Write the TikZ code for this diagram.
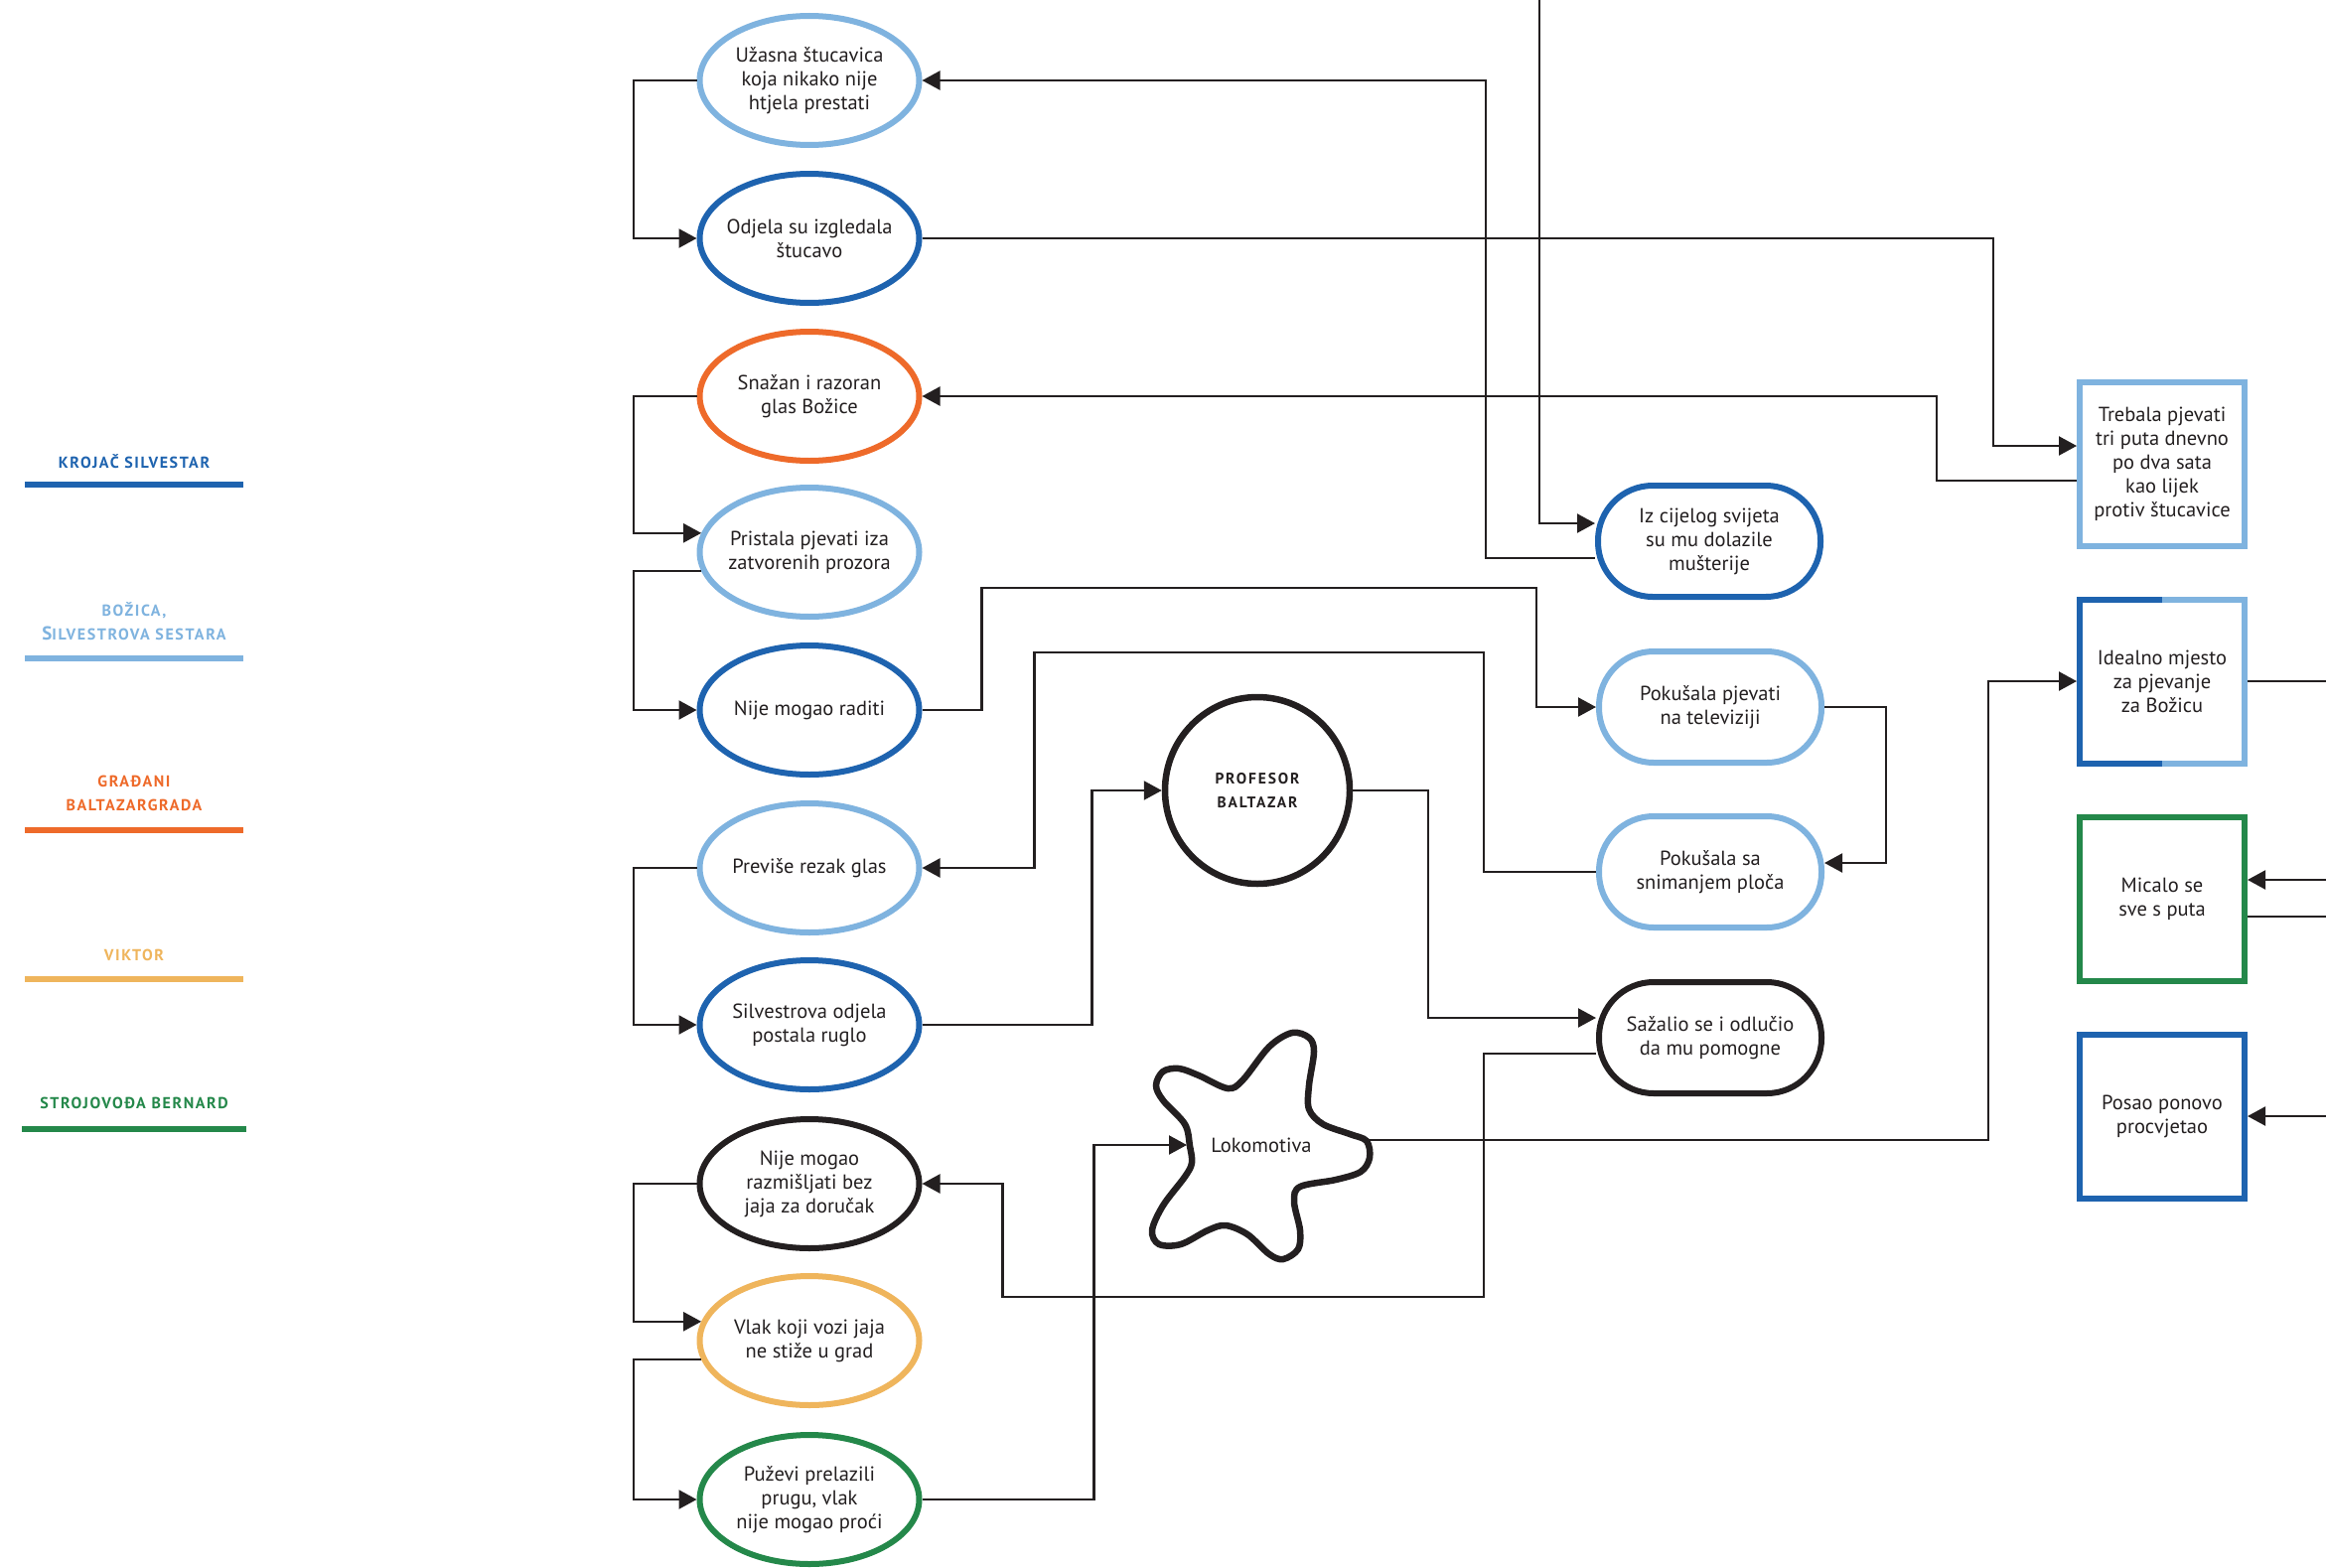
\documentclass[tikz,border=0pt]{standalone}
\usepackage{fontspec}
\setmainfont{PT Sans}
\usetikzlibrary{arrows.meta,calc,shapes.geometric}
\definecolor{dblue}{HTML}{1E63AF}
\definecolor{lblue}{HTML}{7FB3DF}
\definecolor{orng}{HTML}{EE6A2A}
\definecolor{yell}{HTML}{EFB55C}
\definecolor{grn}{HTML}{24884A}
\definecolor{ink}{HTML}{231F20}
\begin{document}
\begin{tikzpicture}[x=1pt,y=-1pt,
  txt/.style={font=\fontsize{20.5}{24}\selectfont, text=ink, align=center},
  ell/.style={ellipse, draw, line width=6pt, minimum width=221pt, minimum height=130pt, inner xsep=-40pt, inner ysep=0pt, txt},
  stad/.style={rectangle, rounded corners=55pt, draw, line width=6pt, minimum width=224pt, minimum height=112pt, inner sep=0pt, txt},
  sbox/.style={rectangle, draw, line width=6pt, minimum width=166pt, minimum height=165pt, inner sep=0pt, txt},
  arr/.style={draw=ink, line width=2.2pt, -{Triangle[length=18pt,width=19pt]}},
  con/.style={draw=ink, line width=2.2pt},
  leg/.style={font=\fontsize{16}{24}\selectfont\bfseries\addfontfeatures{LetterSpace=10}, align=center},
  legline/.style={line width=6pt},
]
\fill[white] (0,0) rectangle (2342,1579);
\useasboundingbox (0,0) rectangle (2342,1579);

% legend
\node[leg,text=dblue] (l1) at (135,465) {KROJAČ SILVESTAR};
\draw[legline,dblue] (25,488) -- (245,488);
\node[leg,text=lblue] (l2) at (135,626) {BOŽICA,\\{\fontsize{19}{24}\selectfont S}ILVESTROVA SESTARA};
\draw[legline,lblue] (25,663) -- (245,663);
\node[leg,text=orng] (l3) at (135,799) {GRAĐANI\\BALTAZARGRADA};
\draw[legline,orng] (25,836) -- (245,836);
\node[leg,text=yell] (l4) at (135,962) {VIKTOR};
\draw[legline,yell] (25,986) -- (245,986);
\node[leg,text=grn] (l5) at (135,1111) {STROJOVOĐA BERNARD};
\draw[legline,grn] (22,1137) -- (248,1137);

% left column ellipses
\node[ell,draw=lblue] (u) at (815,81) {Užasna štucavica\\koja nikako nije\\htjela prestati};
\node[ell,draw=dblue] (o) at (815,240) {Odjela su izgledala\\štucavo};
\node[ell,draw=orng] (s) at (815,399) {Snažan i razoran\\glas Božice};
\node[ell,draw=lblue] (p) at (815,556) {Pristala pjevati iza\\zatvorenih prozora};
\node[ell,draw=dblue] (n) at (815,715) {Nije mogao raditi};
\node[ell,draw=lblue] (pr) at (815,874) {Previše rezak glas};
\node[ell,draw=dblue] (sv) at (815,1032) {Silvestrova odjela\\postala ruglo};
\node[ell,draw=ink] (nr) at (815,1192) {Nije mogao\\razmišljati bez\\jaja za doručak};
\node[ell,draw=yell] (v) at (815,1350) {Vlak koji vozi jaja\\ne stiže u grad};
\node[ell,draw=grn] (pz) at (815,1510) {Puževi prelazili\\prugu, vlak\\nije mogao proći};

% middle
\node[ellipse, draw=ink, line width=6.5pt, minimum width=186pt, minimum height=188pt, inner sep=0pt, text=ink, align=center,
  font=\fontsize{15.5}{24}\selectfont\bfseries\addfontfeatures{LetterSpace=12}] (pb) at (1266,796) {PROFESOR\\BALTAZAR};
\draw[ink, line width=6.5pt] plot[smooth cycle, tension=0.55] coordinates {
 (1198,1154) (1193,1132) (1171,1108) (1164,1093) (1171,1079) (1187,1076) (1207,1083) (1236,1096)
 (1251,1088) (1278,1054) (1301,1040) (1318,1045) (1323,1059) (1318,1093) (1318,1117) (1332,1132)
 (1359,1142) (1376,1149) (1379,1166) (1370,1180) (1345,1188) (1309,1195) (1303,1210) (1309,1239)
 (1307,1258) (1292,1268) (1278,1263) (1256,1243) (1234,1234) (1216,1239) (1189,1253) (1167,1253)
 (1160,1239) (1171,1214) (1193,1185) (1200,1171)};
\node[txt] (loko) at (1270,1153) {Lokomotiva};
\coordinate (lokoL) at (1195,1153);
\coordinate (lokoR) at (1379,1148);

% stadiums
\node[stad,draw=dblue] (iz) at (1721,545) {Iz cijelog svijeta\\su mu dolazile\\mušterije};
\node[stad,draw=lblue] (pp) at (1722,712) {Pokušala pjevati\\na televiziji};
\node[stad,draw=lblue] (ps) at (1722,878) {Pokušala sa\\snimanjem ploča};
\node[stad,draw=ink] (sz) at (1722,1045) {Sažalio se i odlučio\\da mu pomogne};

% boxes
\node[sbox,draw=lblue] (tr) at (2177,467) {Trebala pjevati\\tri puta dnevno\\po dva sata\\kao lijek\\protiv štucavice};
\node[sbox,draw=none] (id) at (2177,686) {Idealno mjesto\\za pjevanje\\za Božicu};
\draw[dblue,line width=6pt] ($(id.center)+(0,-82.5)$) -- ++(-83,0) -- ++(0,165) -- ++(83,0);
\draw[lblue,line width=6pt] ($(id.center)+(0,-82.5)$) -- ++(83,0) -- ++(0,165) -- ++(-83,0);
\node[sbox,draw=grn] (mc) at (2177,905) {Micalo se\\sve s puta};
\node[sbox,draw=dblue] (po) at (2177,1124) {Posao ponovo\\procvjetao};

% helper coordinates
\coordinate (L) at (638,0);
\coordinate (T) at (1550,0);
\coordinate (Rb) at (2342,0);
\coordinate (m1) at ($(mc.east)+(0,-19)$);
\coordinate (m2) at ($(mc.east)+(0,18)$);

% left side connectors
\draw[arr] (u.west) -- (u.west -| L) |- (o.west);
\draw[arr] (s.west) -- (s.west -| L) |- (p.170);
\draw[arr] (p.190) -- (p.190 -| L) |- (n.west);
\draw[arr] (pr.west) -- (pr.west -| L) |- (sv.west);
\draw[arr] (nr.west) -- (nr.west -| L) |- (v.170);
\draw[arr] (v.190) -- (v.190 -| L) |- (pz.west);

% right side connectors
\draw[arr] ($(iz.west)+(0,17)$) -- ++(-110,0) |- (u.east);
\draw[arr] (T) |- ($(iz.west)+(0,-18)$);
\draw[arr] (o.east) -| ($(tr.west)+(-84,-18)$) -- ($(tr.west)+(0,-18)$);
\draw[arr] ($(tr.west)+(0,17)$) -- ++(-141,0) |- (s.east);
\draw[arr] (n.east) -- ++(60,0) |- ($(pp.west)+(-60,-120)$) |- (pp.west);
\draw[arr] (pp.east) -- ++(62,0) |- ($(ps.east)+(0,-9)$);
\draw[arr] (ps.west) -- ++(-113,0) |- ($(pr.east)+(113,-217)$) |- (pr.east);
\draw[arr] (sv.east) -- ++(171,0) |- (pb.west);
\draw[arr] (pb.east) -- ++(76,0) |- ($(sz.west)+(0,-20)$);
\draw[arr] ($(sz.west)+(0,16)$) -- ++(-113,0) |- ($(nr.east)+(81,114)$) |- (nr.east);
\draw[arr] (pz.east) -- ++(173,0) |- (lokoL);
\draw[arr] (lokoR) -- ++(623,0) |- (id.west);
\draw[con] (id.east) -- (id.east -| Rb);
\draw[arr] (m1 -| Rb) -- (m1);
\draw[con] (m2) -- (m2 -| Rb);
\draw[arr] (po.east -| Rb) -- (po.east);
\end{tikzpicture}
\end{document}
